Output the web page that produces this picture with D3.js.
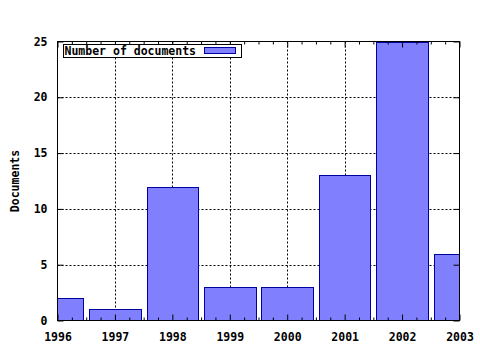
<!DOCTYPE html>
<html>
<head>
<meta charset="utf-8">
<script src="https://cdn.jsdelivr.net/npm/d3@7"></script>
<style>
  body { margin: 0; background: #fff; }
  text { font-family: "DejaVu Sans Mono", monospace; font-weight: bold; font-size: 11.5px; fill: #000; }
</style>
</head>
<body>
<div id="chart"></div>
<script>
const years = [1996, 1997, 1998, 1999, 2000, 2001, 2002, 2003];
const documents = [2, 1, 12, 3, 3, 13, 25, 6];
const yTicks = [0, 5, 10, 15, 20, 25];
const seriesName = 'Number of documents';

const width = 480;
const height = 350;
const plot = {left: 57.5, right: 459.5, top: 41.5, bottom: 320.5};

const svg = d3.select('#chart')
    .append('svg')
    .attr('width', width)
    .attr('height', height);

const x = d3.scaleLinear()
    .domain([1996, 2003])
    .range([plot.left, plot.right]);

const y = d3.scaleLinear()
    .domain([0, 25])
    .range([plot.bottom, plot.top]);

const barW = 0.9;

svg.append('defs').append('clipPath').attr('id', 'clip')
    .append('rect')
    .attr('x', plot.left).attr('y', plot.top - 1)
    .attr('width', plot.right - plot.left).attr('height', plot.bottom - plot.top + 1);

// grid
const grid = svg.append('g')
    .attr('stroke', '#000')
    .attr('stroke-width', 1)
    .attr('stroke-dasharray', '2,2');
grid.selectAll('.vgrid').data(years.slice(1, -1)).enter().append('line')
    .attr('x1', d => Math.round(x(d)) + 0.5).attr('x2', d => Math.round(x(d)) + 0.5)
    .attr('y1', plot.top).attr('y2', plot.bottom);
grid.selectAll('.hgrid').data(yTicks.slice(1, -1)).enter().append('line')
    .attr('x1', plot.left).attr('x2', plot.right)
    .attr('y1', d => Math.round(y(d)) + 0.5).attr('y2', d => Math.round(y(d)) + 0.5);

// bars
svg.append('g').attr('clip-path', 'url(#clip)')
    .selectAll('rect').data(years).enter().append('rect')
    .attr('x', d => Math.round(x(d - barW / 2)) + 0.5)
    .attr('width', d => Math.round(x(d + barW / 2)) - Math.round(x(d - barW / 2)))
    .attr('y', (d, i) => Math.round(y(documents[i])) + 0.5)
    .attr('height', (d, i) => plot.bottom - Math.round(y(documents[i])) - 0.5)
    .attr('fill', '#8080ff')
    .attr('stroke', '#0000a0')
    .attr('stroke-width', 1);

// border
svg.append('rect')
    .attr('x', plot.left).attr('y', plot.top)
    .attr('width', plot.right - plot.left).attr('height', plot.bottom - plot.top)
    .attr('fill', 'none').attr('stroke', '#000');

const quarters = d3.range(1996, 2003.01, 0.25).filter(v => v % 1 !== 0);

function styleAxis(g) {
    g.select('.domain').remove();
    g.selectAll('line').attr('stroke', '#000');
    g.selectAll('text').attr('font-family', null).attr('font-size', null);
}

svg.append('g').attr('transform', `translate(0,${plot.bottom})`)
    .call(d3.axisBottom(x).tickValues(years).tickFormat(d3.format('d')).tickSize(-6).tickPadding(12.5))
    .call(styleAxis);
svg.append('g').attr('transform', `translate(0,${plot.bottom})`)
    .call(d3.axisBottom(x).tickValues(quarters).tickFormat('').tickSize(-3))
    .call(styleAxis);
svg.append('g').attr('transform', `translate(0,${plot.top})`)
    .call(d3.axisTop(x).tickValues(years).tickFormat('').tickSize(-6))
    .call(styleAxis);
svg.append('g').attr('transform', `translate(0,${plot.top})`)
    .call(d3.axisTop(x).tickValues(quarters).tickFormat('').tickSize(-3))
    .call(styleAxis);
svg.append('g').attr('transform', `translate(${plot.left},0)`)
    .call(d3.axisLeft(y).tickValues(yTicks).tickSize(-6).tickPadding(10))
    .call(styleAxis);
svg.append('g').attr('transform', `translate(${plot.right},0)`)
    .call(d3.axisRight(y).tickValues(yTicks).tickFormat('').tickSize(-6))
    .call(styleAxis);

// y label
svg.append('text')
    .attr('transform', 'translate(18.5,181) rotate(-90)')
    .attr('text-anchor', 'middle')
    .text('Documents');

// legend
const legend = svg.append('g');
legend.append('rect')
    .attr('x', 63.5).attr('y', 44.5).attr('width', 178).attr('height', 13)
    .attr('fill', '#fff').attr('stroke', '#000');
legend.append('text')
    .attr('x', 64.5).attr('y', 55)
    .text(seriesName);
legend.append('rect')
    .attr('x', 204.5).attr('y', 47.5).attr('width', 31).attr('height', 6)
    .attr('fill', '#8080ff').attr('stroke', '#0000a0');
</script>
</body>
</html>
